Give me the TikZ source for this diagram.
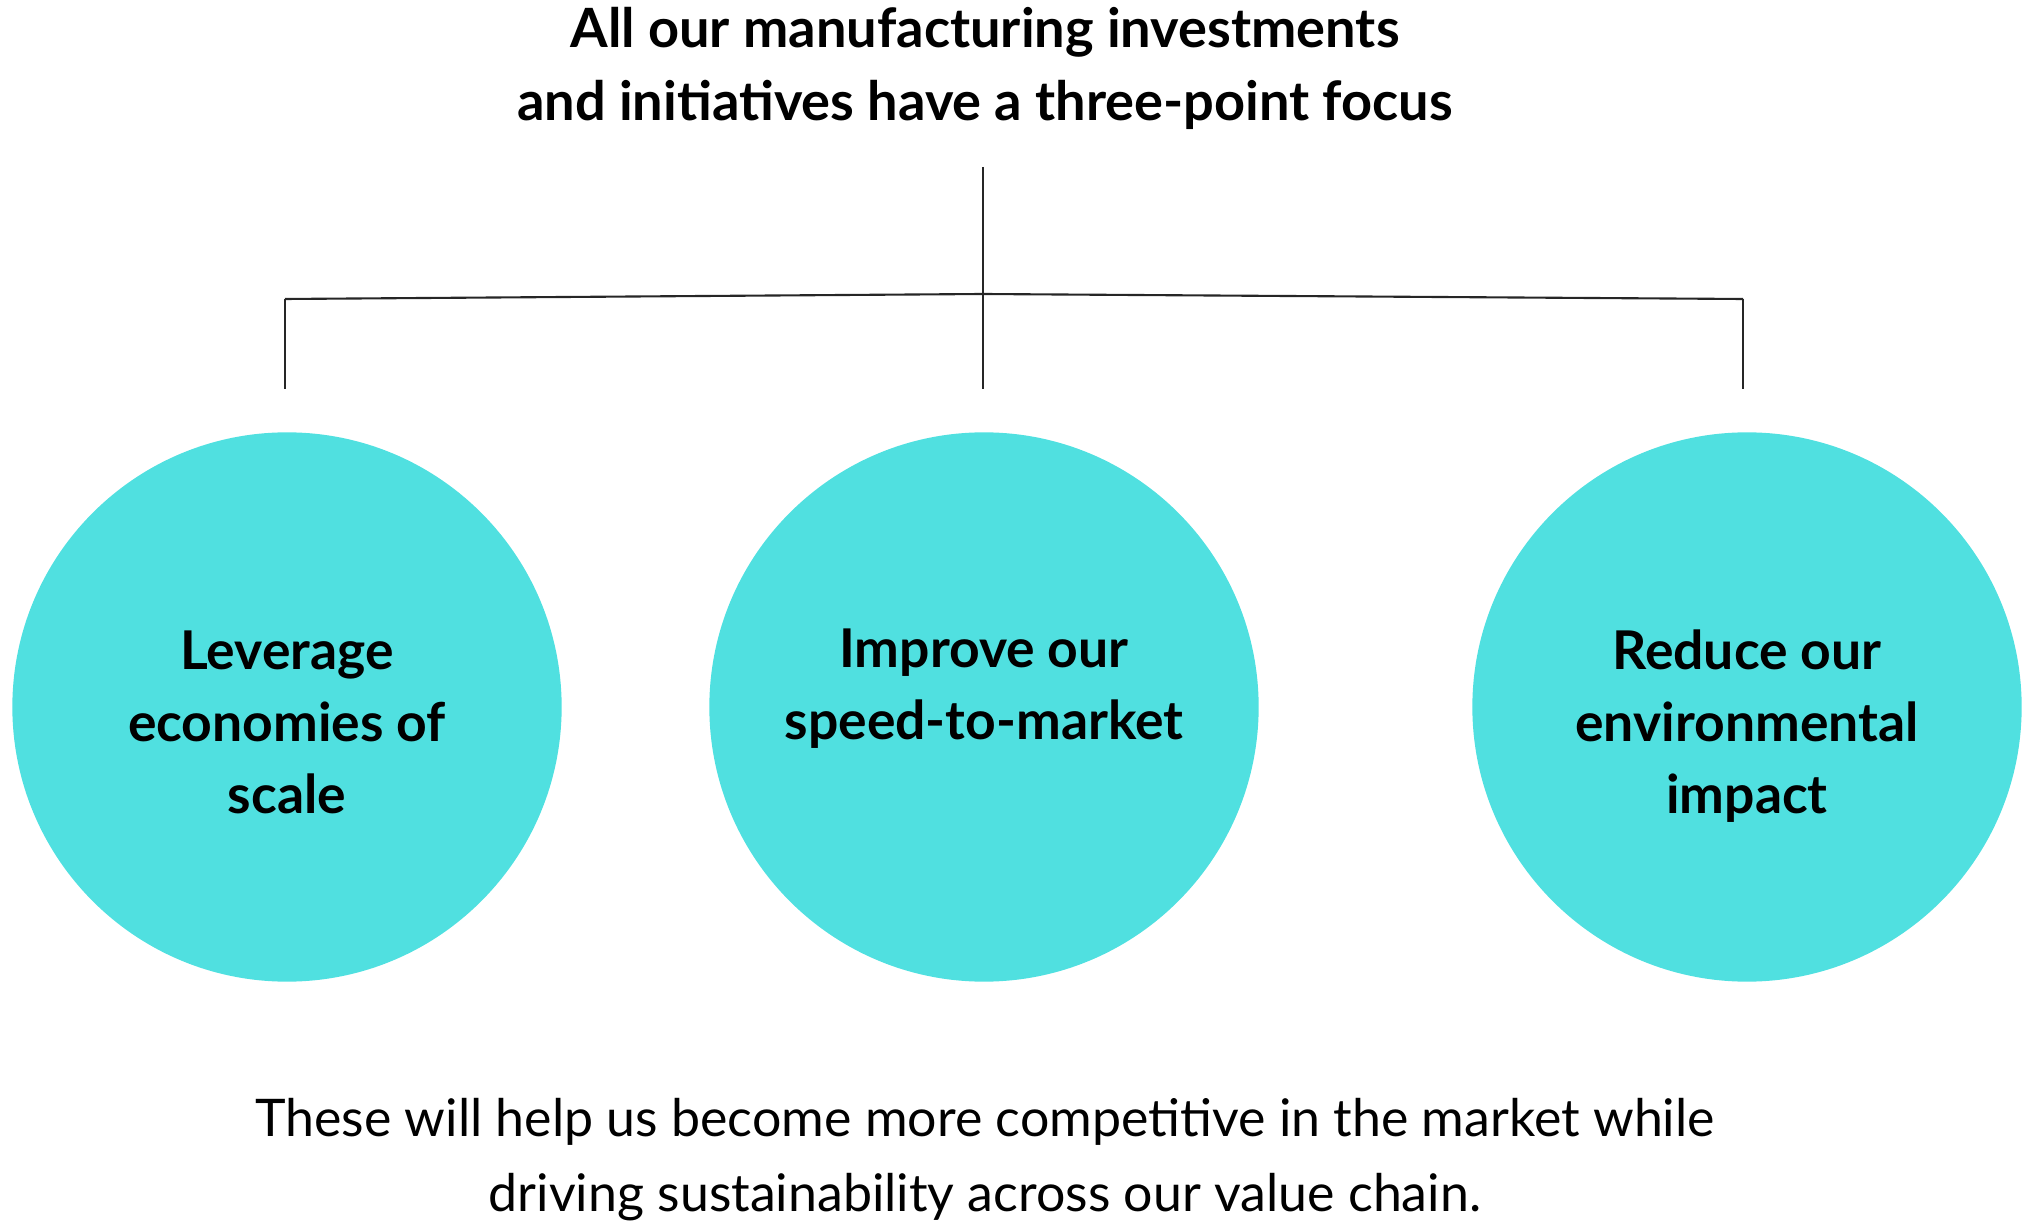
\documentclass[tikz,border=0pt]{standalone}
\usepackage{fontspec}
\setmainfont{Lato}
\definecolor{focuscyan}{RGB}{80,224,224}

\begin{document}
\begin{tikzpicture}[
  x=0.01cm, y=-0.01cm,
  every node/.style={font=\fontsize{14}{20.5}\selectfont, inner sep=0pt},
  heading/.style={align=center, font=\fontsize{15.4}{20.8}\selectfont\bfseries},
  focus/.style={circle, fill=focuscyan, minimum size=5.49cm},
  focustext/.style={align=center, font=\fontsize{15.2}{20.5}\selectfont\bfseries},
  footer/.style={align=center, font=\fontsize{14.75}{21.3}\selectfont},
  link/.style={line width=0.6pt, black!85}
]
  \useasboundingbox (0,0) rectangle (2033,1228);

  \node[heading] (title) at (985,68) {All our manufacturing investments\\and initiatives have a three-point focus};

  % the three circles
  \node[focus] (scale) at (287,707) {};
  \node[focus] (speed) at (984,707) {};
  \node[focus] (impact) at (1747,707) {};

  \node[focustext] (scaletext) at (287,722) {Leverage\\economies of\\scale};
  \node[focustext] (speedtext) at (984,689) {Improve our\\speed-to-market};
  \node[focustext] (impacttext) at (1747,726) {Reduce our\\environmental\\impact};

  \node[footer] (note) at (985,1160) {These will help us become more competitive in the market while\\driving sustainability across our value chain.};

  % bracket
  \coordinate (top) at (983,167);
  \coordinate (hub) at (983,294);
  \coordinate (left) at (285,299);
  \coordinate (right) at (1743,299);
  \draw[link] (top) -- (hub) -- ++(0,95);
  \draw[link] (left) -- (hub) -- (right);
  \draw[link] (left) -- ++(0,90);
  \draw[link] (right) -- ++(0,90);
\end{tikzpicture}
\end{document}
